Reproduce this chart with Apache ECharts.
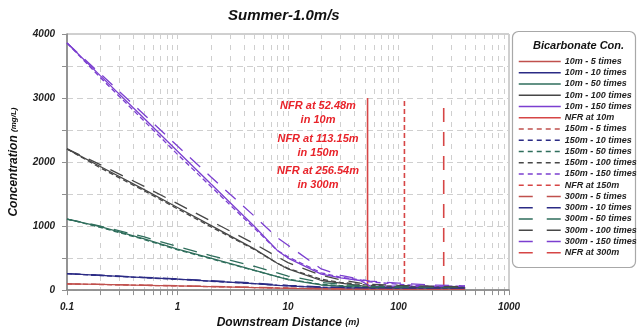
<!DOCTYPE html>
<html>
<head>
<meta charset="utf-8">
<script src="https://cdn.jsdelivr.net/npm/echarts@6/dist/echarts.min.js"></script>
<style>
  html, body { margin: 0; padding: 0; background: #fff; }
  #chart { width: 637px; height: 334px; }
</style>
</head>
<body>
<div id="chart"></div>
<script>
// Downstream distance (m) at which each profile is sampled
const distance = [0.1, 0.2, 0.5, 1, 2, 5, 8, 10, 20, 30, 45, 55, 100, 200, 400];

// Bicarbonate concentration (mg/L), outfall depth 10 m
const c10_5   = [97, 88, 75, 65, 55, 40, 32, 28, 20, 17, 15, 15, 15, 15, 15];
const c10_10  = [257, 230, 195, 170, 140, 100, 75, 65, 40, 35, 30, 30, 30, 30, 30];
const c10_50  = [1110, 990, 800, 640, 500, 310, 210, 165, 80, 60, 45, 40, 40, 40, 40];
const c10_100 = [2205, 1930, 1570, 1290, 1010, 640, 420, 330, 150, 110, 70, 45, 45, 45, 45];
const c10_150 = [3860, 3350, 2680, 2170, 1660, 990, 620, 500, 250, 190, 150, 65, 60, 55, 55];

// Outfall depth 150 m
const c150_5   = [97, 87, 74, 64, 54, 40, 33, 29, 22, 19, 17, 16, 15, 15, 15];
const c150_10  = [257, 228, 193, 168, 138, 100, 76, 66, 45, 38, 33, 32, 30, 30, 30];
const c150_50  = [1110, 980, 790, 630, 490, 305, 210, 170, 90, 70, 55, 50, 45, 40, 40];
const c150_100 = [2205, 1910, 1550, 1270, 990, 630, 420, 340, 170, 120, 90, 75, 55, 45, 45];
const c150_150 = [3860, 3320, 2640, 2120, 1620, 960, 620, 520, 270, 200, 160, 130, 90, 60, 60];

// Outfall depth 300 m
const c300_5   = [97, 90, 78, 69, 59, 45, 37, 33, 25, 21, 19, 18, 17, 16, 16];
const c300_10  = [257, 233, 200, 176, 148, 110, 85, 75, 50, 42, 36, 34, 32, 30, 30];
const c300_50  = [1110, 1000, 830, 680, 540, 370, 270, 220, 120, 90, 65, 55, 50, 45, 45];
const c300_100 = [2205, 1960, 1620, 1350, 1080, 720, 520, 430, 230, 160, 110, 90, 75, 60, 50];
const c300_150 = [3860, 3380, 2740, 2250, 1770, 1150, 820, 700, 330, 230, 170, 140, 110, 80, 65];

// Near-field region (NFR) boundary for each depth, and the height of its marker line
const nfrDepths = ['10m', '150m', '300m'];
const nfrDistance = [52.48, 113.15, 256.54];
const nfrTop = 3000;

const dilutionLabels = ['5 times', '10 times', '50 times', '100 times', '150 times'];

// Axis ticks and labels
const xTickValues = [0.1, 0.2, 0.3, 0.4, 0.5, 0.6, 0.7, 0.8, 0.9,
                     1, 2, 3, 4, 5, 6, 7, 8, 9,
                     10, 20, 30, 40, 50, 60, 70, 80, 90,
                     100, 200, 300, 400, 500, 600, 700, 800, 900, 1000];
const xLabelValues = [0.1, 1, 10, 100, 1000];

const families = [
  { depth: '10m',  values: [c10_5, c10_10, c10_50, c10_100, c10_150] },
  { depth: '150m', values: [c150_5, c150_10, c150_50, c150_100, c150_150] },
  { depth: '300m', values: [c300_5, c300_10, c300_50, c300_100, c300_150] }
];

const lineColors = ['#c0504d', '#2b2b85', '#2f6e5c', '#474747', '#7b3fd0'];
const nfrColor = '#d64545';
const dashByFamily = ['solid', [5, 3], [14, 10]];
const legendDash = ['solid', [5, 4], [14, 14]];

const FONT = '"Liberation Sans", Arial, sans-serif';

const series = [];
const legendData = [];
families.forEach((fam, fi) => {
  fam.values.forEach((vals, di) => {
    const name = fam.depth + ' - ' + dilutionLabels[di];
    series.push({
      name,
      type: 'line',
      symbol: 'none',
      data: distance.map((d, i) => [d, vals[i]]),
      lineStyle: { color: lineColors[di], width: 1.3, type: dashByFamily[fi] },
      itemStyle: { color: lineColors[di] },
      z: 3
    });
    legendData.push({ name, lineStyle: { type: legendDash[fi], width: 1.5 } });
  });
  const nfrName = 'NFR at ' + nfrDepths[fi];
  series.push({
    name: nfrName,
    type: 'line',
    symbol: 'none',
    data: [[nfrDistance[fi], 0], [nfrDistance[fi], nfrTop]],
    lineStyle: { color: nfrColor, width: 1.6, type: dashByFamily[fi] },
    itemStyle: { color: nfrColor },
    z: 2
  });
  legendData.push({ name: nfrName, lineStyle: { type: legendDash[fi], width: 1.5 } });
});

const redText = {
  fill: '#e8232a', font: 'italic bold 11px ' + FONT, textAlign: 'center', textVerticalAlign: 'middle'
};
const nfrLines = [];
nfrDistance.forEach((d, i) => {
  nfrLines.push('NFR at ' + d.toFixed(2) + 'm');
  nfrLines.push('in ' + nfrDepths[i]);
});
const nfrLabelY = [106, 120, 139, 153, 171, 185];

const chart = echarts.init(document.getElementById('chart'), null, { renderer: 'canvas' });
chart.setOption({
  backgroundColor: '#fff',
  animation: false,
  title: [
    {
      text: 'Summer-1.0m/s',
      left: 228, top: 8, padding: 0,
      textStyle: { fontFamily: FONT, fontSize: 15, fontWeight: 'bold', fontStyle: 'italic', color: '#111' }
    },
    {
      text: 'Bicarbonate Con.',
      left: 533, top: 40, padding: 0,
      textStyle: { fontFamily: FONT, fontSize: 11, fontWeight: 'bold', fontStyle: 'italic', color: '#111' }
    }
  ],
  grid: {
    left: 64, right: 128, top: 34, bottom: 40,
    show: true, borderColor: '#a0a0a0', borderWidth: 1, backgroundColor: '#fff'
  },
  legend: {
    data: legendData,
    orient: 'vertical',
    left: 518, top: 57,
    padding: 0,
    itemWidth: 42, itemHeight: 9, itemGap: 2.25,
    selectedMode: false,
    itemStyle: { opacity: 0 },
    textStyle: { fontFamily: FONT, fontSize: 9, fontWeight: 'bold', fontStyle: 'italic', color: '#222', padding: [0, 0, 0, -1] }
  },
  xAxis: {
    type: 'log',
    logBase: 10,
    min: 0.1,
    max: 1000,
    name: '{a|Downstream Distance} {b|(m)}',
    nameLocation: 'middle',
    nameGap: 25,
    nameTextStyle: {
      rich: {
        a: { fontFamily: FONT, fontSize: 12, fontWeight: 'bold', fontStyle: 'italic', color: '#111' },
        b: { fontFamily: FONT, fontSize: 9, fontWeight: 'bold', fontStyle: 'italic', color: '#111' }
      }
    },
    axisLine: { show: true, lineStyle: { color: '#808080', width: 1.5 } },
    axisTick: { show: true, inside: false, length: 5, customValues: xTickValues, lineStyle: { color: '#909090' } },
    axisLabel: {
      customValues: xLabelValues,
      margin: 12,
      fontFamily: FONT, fontSize: 10, fontWeight: 'bold', fontStyle: 'italic', color: '#222',
      formatter: v => String(v)
    },
    splitLine: { show: true, lineStyle: { color: '#cfcfcf', type: [5, 6], width: 1 } }
  },
  yAxis: {
    type: 'value',
    min: 0,
    max: 4000,
    interval: 500,
    name: '{a|Concentration} {b|(mg/L)}',
    nameLocation: 'middle',
    nameGap: 47,
    nameTextStyle: {
      rich: {
        a: { fontFamily: FONT, fontSize: 12, fontWeight: 'bold', fontStyle: 'italic', color: '#111' },
        b: { fontFamily: FONT, fontSize: 8, fontWeight: 'bold', fontStyle: 'italic', color: '#111' }
      }
    },
    axisLine: { show: true, lineStyle: { color: '#808080', width: 1.5 } },
    axisTick: { show: true, inside: false, length: 5, lineStyle: { color: '#909090' } },
    axisLabel: {
      margin: 12,
      fontFamily: FONT, fontSize: 10, fontWeight: 'bold', fontStyle: 'italic', color: '#222',
      formatter: v => (v % 1000 === 0 ? String(v) : '')
    },
    splitLine: { show: true, lineStyle: { color: '#cfcfcf', type: [6, 4], width: 1 } }
  },
  graphic: [
    {
      type: 'rect', z: -1,
      shape: { x: 512.5, y: 31.5, width: 123, height: 236, r: 6 },
      style: { fill: '#fff', stroke: '#a8a8a8', lineWidth: 1.2 }
    },
    ...nfrLines.map((t, i) => ({
      type: 'text', z: 10, x: 318, y: nfrLabelY[i],
      style: Object.assign({ text: t }, redText)
    }))
  ],
  series
});
</script>
</body>
</html>
